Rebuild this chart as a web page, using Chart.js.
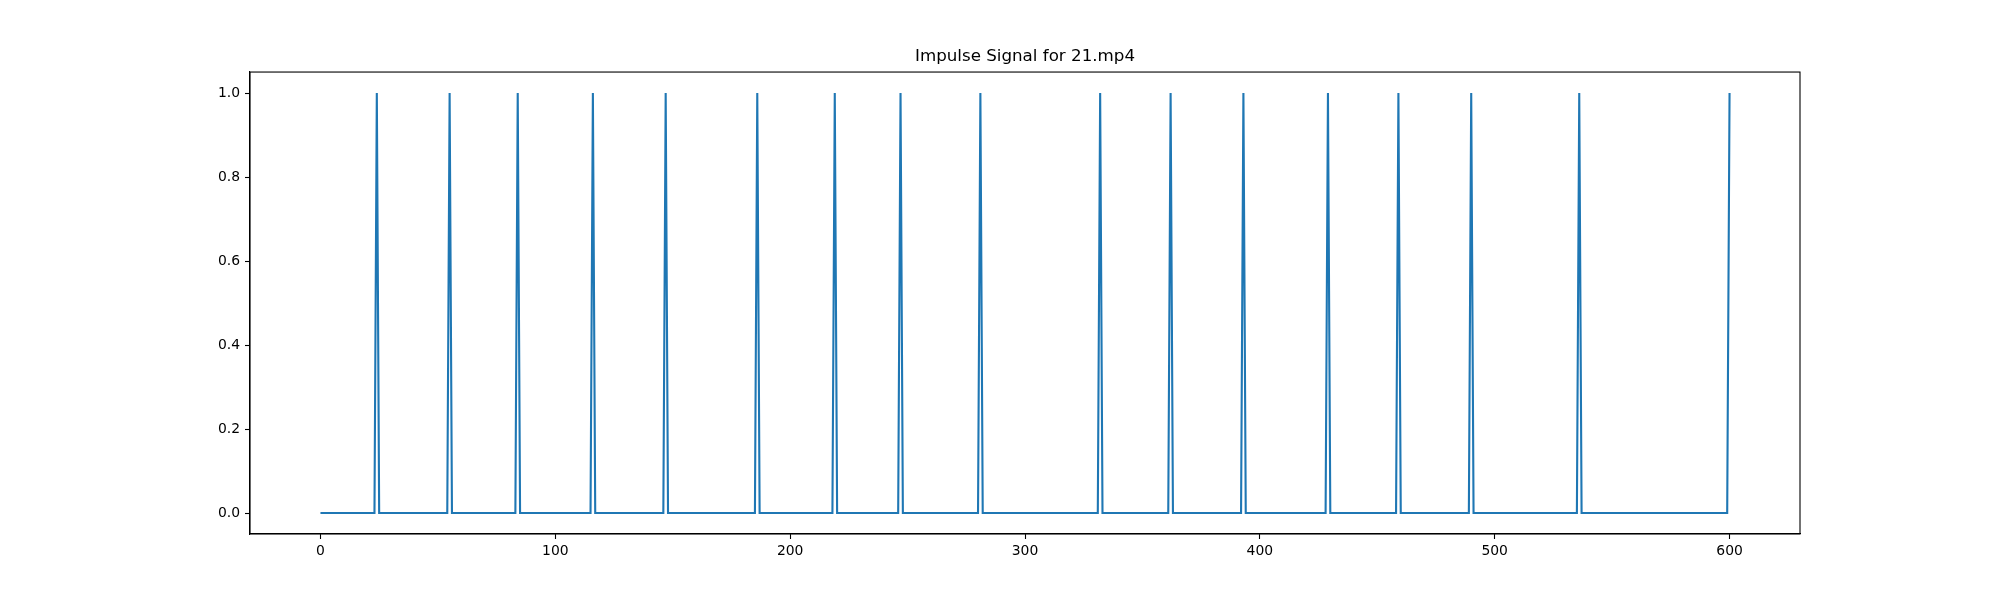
<!DOCTYPE html>
<html>
<head>
<meta charset="utf-8">
<title>Impulse Signal for 21.mp4</title>
<script src="https://cdn.jsdelivr.net/npm/chart.js@4/dist/chart.umd.min.js"></script>
<style>
  html, body { margin: 0; padding: 0; background: #fff; }
  #wrap { width: 2000px; height: 600px; }
</style>
</head>
<body>
<div id="wrap"><canvas id="impulseChart" width="2000" height="600"></canvas></div>
<script>
// frames where the impulse fires (value 1), everything else is 0
const impulseFrames = [24, 55, 84, 116, 147, 186, 219, 247, 281, 332, 362, 393, 429, 459, 490, 536, 600];
const frameCount = 601;
const xTicks = [0, 100, 200, 300, 400, 500, 600];
const yTicks = [0.0, 0.2, 0.4, 0.6, 0.8, 1.0];

// one sample per frame
const signal = [];
for (let i = 0; i < frameCount; i++) {
  signal.push({ x: i, y: impulseFrames.includes(i) ? 1 : 0 });
}

const tickFont = { family: "'DejaVu Sans', sans-serif", size: 13.9 };

// matplotlib-style box around the axes
const axesBox = {
  id: 'axesBox',
  afterDraw(chart) {
    const a = chart.chartArea, ctx = chart.ctx;
    ctx.save();
    ctx.strokeStyle = '#000';
    ctx.lineWidth = 1.1;
    ctx.strokeRect(a.left, a.top, a.right - a.left, a.bottom - a.top);
    ctx.restore();
  }
};

new Chart(document.getElementById('impulseChart'), {
  type: 'line',
  data: {
    datasets: [{
      data: signal,
      borderColor: '#1f77b4',
      borderWidth: 2.1,
      pointRadius: 0,
      tension: 0,
      fill: false
    }]
  },
  options: {
    responsive: false,
    animation: false,
    layout: { padding: { left: 0, right: 200, top: 0, bottom: 0 } },
    plugins: {
      legend: { display: false },
      tooltip: { enabled: false },
      title: {
        display: true,
        text: 'Impulse Signal for 21.mp4',
        fullSize: false,
        color: '#000',
        font: { family: "'DejaVu Sans', sans-serif", size: 16.7, weight: 'normal', lineHeight: 1.2 },
        padding: { top: 47, bottom: 5 }
      }
    },
    scales: {
      x: {
        type: 'linear',
        min: -30,
        max: 630,
        afterBuildTicks: s => { s.ticks = xTicks.map(v => ({ value: v })); },
        afterFit: s => { s.height = 66; },
        grid: { drawOnChartArea: false, color: '#000', tickLength: 5, tickWidth: 1.1 },
        border: { display: true, color: '#000', width: 1.1 },
        ticks: { color: '#000', font: tickFont, padding: 4, maxRotation: 0, callback: v => String(v) }
      },
      y: {
        type: 'linear',
        min: -0.05,
        max: 1.05,
        afterBuildTicks: s => { s.ticks = yTicks.map(v => ({ value: v })); },
        afterFit: s => { s.width = 250; },
        grid: { drawOnChartArea: false, color: '#000', tickLength: 5, tickWidth: 1.1 },
        border: { display: true, color: '#000', width: 1.1 },
        ticks: { color: '#000', font: tickFont, padding: 5, callback: v => Number(v).toFixed(1) }
      }
    }
  },
  plugins: [axesBox]
});
</script>
</body>
</html>
